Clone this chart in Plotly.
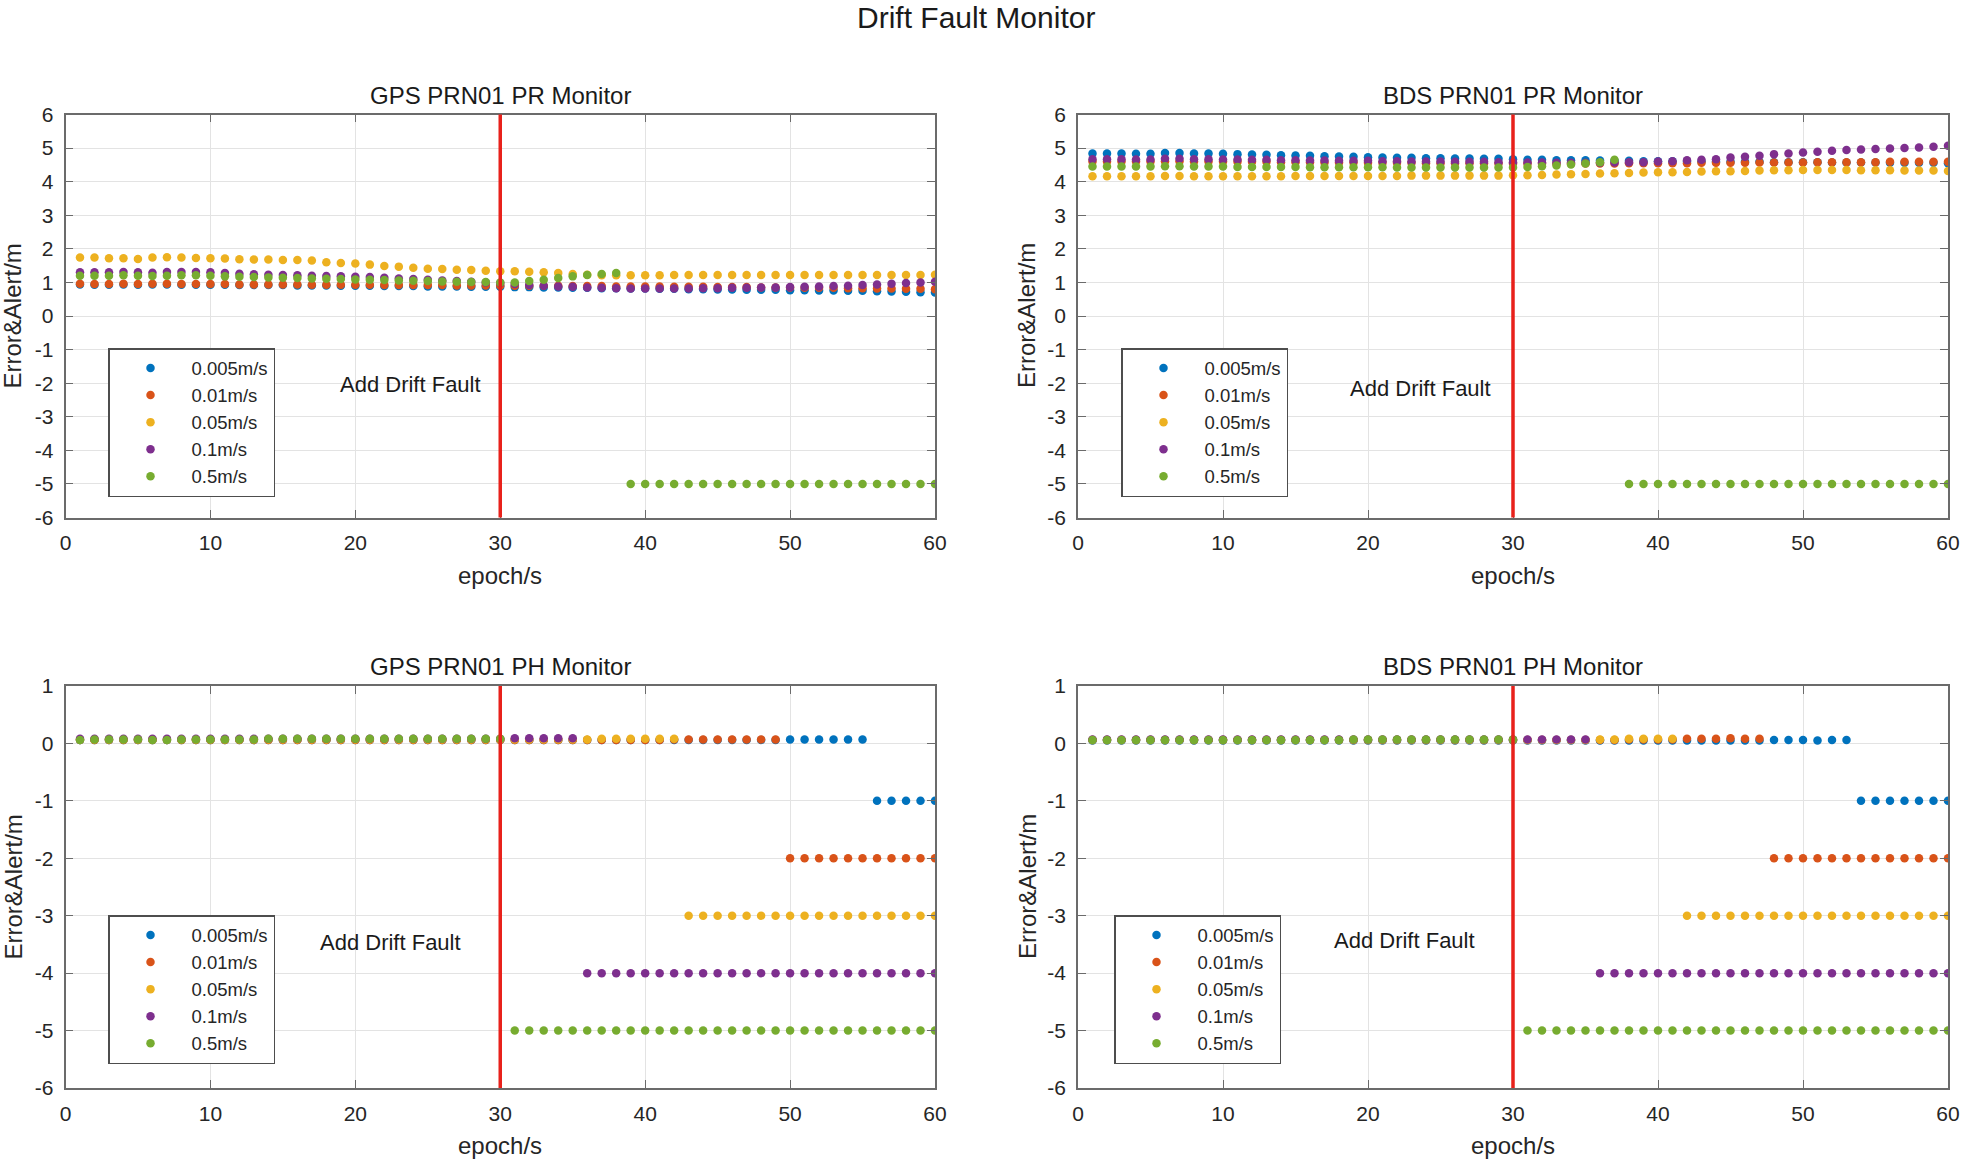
import plotly.graph_objects as go

# ---------------- data ----------------
EPOCHS = list(range(1, 61))
SERIES = ["0.005m/s", "0.01m/s", "0.05m/s", "0.1m/s", "0.5m/s"]
COLORS = ["#0072BD", "#D95319", "#EDB120", "#7E2F8E", "#77AC30"]
FAULT_EPOCH = 30
X_TICKS = [0, 10, 20, 30, 40, 50, 60]
PR_Y_TICKS = [-6, -5, -4, -3, -2, -1, 0, 1, 2, 3, 4, 5, 6]
PH_Y_TICKS = [-6, -5, -4, -3, -2, -1, 0, 1]

# GPS PRN01 PR monitor
GPS_PR_0005 = [0.94, 0.93, 0.93, 0.94, 0.93, 0.94, 0.94, 0.93, 0.93, 0.93,
               0.93, 0.92, 0.92, 0.92, 0.92, 0.91, 0.91, 0.91, 0.90, 0.90,
               0.90, 0.89, 0.89, 0.89, 0.88, 0.88, 0.88, 0.87, 0.87, 0.87,
               0.86, 0.86, 0.85, 0.85, 0.84, 0.84, 0.83, 0.83, 0.82, 0.82,
               0.81, 0.81, 0.80, 0.80, 0.79, 0.79, 0.78, 0.78, 0.78, 0.77,
               0.77, 0.76, 0.76, 0.75, 0.75, 0.74, 0.73, 0.72, 0.71, 0.70]
GPS_PR_001 = [0.96, 0.95, 0.95, 0.96, 0.95, 0.96, 0.96, 0.95, 0.95, 0.95,
              0.95, 0.94, 0.94, 0.94, 0.94, 0.94, 0.93, 0.93, 0.93, 0.93,
              0.93, 0.92, 0.92, 0.92, 0.92, 0.92, 0.91, 0.91, 0.91, 0.91,
              0.90, 0.90, 0.90, 0.90, 0.89, 0.89, 0.89, 0.88, 0.88, 0.88,
              0.88, 0.87, 0.87, 0.87, 0.86, 0.86, 0.86, 0.85, 0.85, 0.85,
              0.84, 0.84, 0.84, 0.83, 0.83, 0.82, 0.82, 0.81, 0.81, 0.80]
GPS_PR_005 = [1.74, 1.74, 1.72, 1.72, 1.70, 1.74, 1.75, 1.74, 1.73, 1.72,
              1.71, 1.69, 1.68, 1.68, 1.67, 1.67, 1.65, 1.60, 1.58, 1.56,
              1.53, 1.49, 1.47, 1.44, 1.41, 1.40, 1.38, 1.37, 1.35, 1.33,
              1.33, 1.32, 1.30, 1.28, 1.25, 1.23, 1.21, 1.21, 1.21, 1.21,
              1.21, 1.22, 1.22, 1.22, 1.22, 1.22, 1.22, 1.22, 1.22, 1.22,
              1.22, 1.22, 1.22, 1.22, 1.22, 1.22, 1.22, 1.22, 1.22, 1.23]
GPS_PR_01 = [1.30, 1.30, 1.30, 1.31, 1.30, 1.29, 1.31, 1.31, 1.31, 1.30,
             1.28, 1.26, 1.24, 1.23, 1.22, 1.21, 1.20, 1.19, 1.18, 1.17,
             1.16, 1.14, 1.12, 1.10, 1.08, 1.06, 1.04, 1.02, 1.00, 0.98,
             0.95, 0.92, 0.90, 0.88, 0.87, 0.85, 0.84, 0.83, 0.82, 0.82,
             0.82, 0.82, 0.82, 0.83, 0.83, 0.84, 0.84, 0.85, 0.85, 0.86,
             0.87, 0.88, 0.89, 0.90, 0.92, 0.94, 0.96, 0.98, 1.00, 1.02]
GPS_PR_05 = [1.20, 1.20, 1.20, 1.21, 1.20, 1.19, 1.20, 1.21, 1.21, 1.20,
             1.18, 1.17, 1.16, 1.15, 1.14, 1.13, 1.12, 1.11, 1.10, 1.09,
             1.08, 1.07, 1.06, 1.05, 1.04, 1.03, 1.02, 1.01, 1.01, 1.00,
             1.00, 1.04, 1.08, 1.13, 1.18, 1.22, 1.25, 1.28, -5.0, -5.0,
             -5.0, -5.0, -5.0, -5.0, -5.0, -5.0, -5.0, -5.0, -5.0, -5.0,
             -5.0, -5.0, -5.0, -5.0, -5.0, -5.0, -5.0, -5.0, -5.0, -5.0]

# BDS PRN01 PR monitor
BDS_PR_0005 = [4.84, 4.84, 4.84, 4.83, 4.83, 4.85, 4.85, 4.84, 4.84, 4.83,
               4.82, 4.81, 4.80, 4.79, 4.78, 4.77, 4.76, 4.75, 4.74, 4.73,
               4.72, 4.71, 4.71, 4.70, 4.70, 4.69, 4.69, 4.68, 4.68, 4.67,
               4.65, 4.65, 4.64, 4.64, 4.64, 4.63, 4.62, 4.62, 4.61, 4.61,
               4.61, 4.60, 4.60, 4.60, 4.59, 4.59, 4.59, 4.58, 4.58, 4.58,
               4.58, 4.57, 4.57, 4.57, 4.57, 4.56, 4.56, 4.56, 4.56, 4.55]
BDS_PR_001 = [4.60, 4.60, 4.60, 4.60, 4.60, 4.61, 4.61, 4.60, 4.60, 4.60,
              4.59, 4.59, 4.59, 4.58, 4.58, 4.58, 4.57, 4.57, 4.57, 4.56,
              4.56, 4.56, 4.56, 4.55, 4.55, 4.55, 4.55, 4.55, 4.54, 4.54,
              4.54, 4.54, 4.54, 4.54, 4.54, 4.54, 4.54, 4.55, 4.55, 4.55,
              4.55, 4.55, 4.56, 4.56, 4.56, 4.56, 4.57, 4.57, 4.57, 4.57,
              4.58, 4.58, 4.58, 4.58, 4.58, 4.59, 4.59, 4.59, 4.59, 4.59]
BDS_PR_005 = [4.16, 4.16, 4.16, 4.16, 4.16, 4.17, 4.17, 4.16, 4.16, 4.16,
              4.16, 4.16, 4.16, 4.16, 4.17, 4.17, 4.17, 4.17, 4.17, 4.17,
              4.17, 4.17, 4.18, 4.18, 4.18, 4.18, 4.18, 4.18, 4.18, 4.19,
              4.19, 4.20, 4.21, 4.22, 4.23, 4.24, 4.25, 4.26, 4.27, 4.28,
              4.28, 4.29, 4.30, 4.31, 4.31, 4.32, 4.33, 4.34, 4.34, 4.35,
              4.35, 4.35, 4.35, 4.34, 4.34, 4.34, 4.33, 4.33, 4.33, 4.32]
BDS_PR_01 = [4.67, 4.67, 4.67, 4.66, 4.66, 4.68, 4.68, 4.67, 4.67, 4.66,
             4.66, 4.65, 4.65, 4.64, 4.64, 4.63, 4.63, 4.62, 4.62, 4.62,
             4.61, 4.61, 4.60, 4.60, 4.60, 4.59, 4.59, 4.59, 4.58, 4.58,
             4.57, 4.57, 4.56, 4.56, 4.56, 4.56, 4.57, 4.58, 4.58, 4.60,
             4.61, 4.64, 4.65, 4.67, 4.72, 4.74, 4.77, 4.82, 4.84, 4.87,
             4.89, 4.92, 4.94, 4.96, 4.97, 4.99, 5.00, 5.02, 5.04, 5.07]
BDS_PR_05 = [4.45, 4.45, 4.45, 4.45, 4.45, 4.46, 4.46, 4.45, 4.45, 4.45,
             4.44, 4.44, 4.44, 4.44, 4.44, 4.43, 4.43, 4.43, 4.43, 4.43,
             4.43, 4.42, 4.42, 4.42, 4.42, 4.42, 4.42, 4.42, 4.42, 4.42,
             4.44, 4.46, 4.48, 4.51, 4.54, 4.58, 4.65, -5.0, -5.0, -5.0,
             -5.0, -5.0, -5.0, -5.0, -5.0, -5.0, -5.0, -5.0, -5.0, -5.0,
             -5.0, -5.0, -5.0, -5.0, -5.0, -5.0, -5.0, -5.0, -5.0, -5.0]

# GPS PRN01 PH monitor
GPS_PH_0005 = [0.06, 0.06, 0.06, 0.06, 0.06, 0.06, 0.06, 0.06, 0.06, 0.06,
               0.06, 0.06, 0.06, 0.06, 0.06, 0.06, 0.06, 0.06, 0.06, 0.06,
               0.06, 0.06, 0.06, 0.06, 0.06, 0.06, 0.06, 0.06, 0.06, 0.06,
               0.06, 0.06, 0.06, 0.06, 0.06, 0.06, 0.06, 0.06, 0.06, 0.06,
               0.06, 0.06, 0.06, 0.06, 0.06, 0.06, 0.06, 0.06, 0.06, 0.07,
               0.07, 0.07, 0.07, 0.07, 0.07, -1.0, -1.0, -1.0, -1.0, -1.0]
GPS_PH_001 = [0.06, 0.06, 0.06, 0.06, 0.06, 0.06, 0.06, 0.06, 0.06, 0.06,
              0.06, 0.06, 0.06, 0.06, 0.06, 0.06, 0.06, 0.06, 0.06, 0.06,
              0.06, 0.06, 0.06, 0.06, 0.06, 0.06, 0.06, 0.06, 0.06, 0.06,
              0.06, 0.06, 0.06, 0.06, 0.06, 0.06, 0.06, 0.06, 0.06, 0.06,
              0.06, 0.07, 0.07, 0.07, 0.07, 0.07, 0.07, 0.07, 0.07, -2.0,
              -2.0, -2.0, -2.0, -2.0, -2.0, -2.0, -2.0, -2.0, -2.0, -2.0]
GPS_PH_005 = [0.07, 0.07, 0.07, 0.07, 0.07, 0.07, 0.07, 0.07, 0.07, 0.07,
              0.07, 0.07, 0.07, 0.07, 0.07, 0.07, 0.07, 0.07, 0.07, 0.07,
              0.07, 0.07, 0.07, 0.07, 0.07, 0.07, 0.07, 0.07, 0.07, 0.07,
              0.07, 0.07, 0.07, 0.07, 0.07, 0.07, 0.08, 0.08, 0.08, 0.08,
              0.08, 0.08, -3.0, -3.0, -3.0, -3.0, -3.0, -3.0, -3.0, -3.0,
              -3.0, -3.0, -3.0, -3.0, -3.0, -3.0, -3.0, -3.0, -3.0, -3.0]
GPS_PH_01 = [0.08, 0.08, 0.08, 0.08, 0.08, 0.08, 0.08, 0.08, 0.08, 0.08,
             0.08, 0.08, 0.08, 0.08, 0.08, 0.08, 0.08, 0.08, 0.08, 0.08,
             0.08, 0.08, 0.08, 0.08, 0.08, 0.08, 0.08, 0.08, 0.08, 0.08,
             0.09, 0.09, 0.09, 0.09, 0.09, -4.0, -4.0, -4.0, -4.0, -4.0,
             -4.0, -4.0, -4.0, -4.0, -4.0, -4.0, -4.0, -4.0, -4.0, -4.0,
             -4.0, -4.0, -4.0, -4.0, -4.0, -4.0, -4.0, -4.0, -4.0, -4.0]
GPS_PH_05 = [0.06, 0.07, 0.07, 0.07, 0.07, 0.06, 0.06, 0.07, 0.07, 0.07,
             0.07, 0.07, 0.07, 0.08, 0.08, 0.08, 0.08, 0.08, 0.08, 0.08,
             0.08, 0.08, 0.08, 0.08, 0.08, 0.08, 0.08, 0.08, 0.08, 0.08,
             -5.0, -5.0, -5.0, -5.0, -5.0, -5.0, -5.0, -5.0, -5.0, -5.0,
             -5.0, -5.0, -5.0, -5.0, -5.0, -5.0, -5.0, -5.0, -5.0, -5.0,
             -5.0, -5.0, -5.0, -5.0, -5.0, -5.0, -5.0, -5.0, -5.0, -5.0]

# BDS PRN01 PH monitor
BDS_PH_0005 = [0.05, 0.05, 0.05, 0.05, 0.05, 0.05, 0.05, 0.05, 0.05, 0.05,
               0.05, 0.05, 0.05, 0.05, 0.05, 0.05, 0.05, 0.05, 0.05, 0.05,
               0.05, 0.05, 0.05, 0.05, 0.05, 0.05, 0.05, 0.05, 0.05, 0.05,
               0.05, 0.05, 0.05, 0.05, 0.05, 0.05, 0.05, 0.05, 0.05, 0.05,
               0.05, 0.05, 0.05, 0.05, 0.05, 0.05, 0.05, 0.06, 0.06, 0.06,
               0.05, 0.06, 0.06, -1.0, -1.0, -1.0, -1.0, -1.0, -1.0, -1.0]
BDS_PH_001 = [0.06, 0.06, 0.06, 0.06, 0.06, 0.06, 0.06, 0.06, 0.06, 0.06,
              0.06, 0.06, 0.06, 0.06, 0.06, 0.06, 0.06, 0.06, 0.06, 0.06,
              0.06, 0.06, 0.06, 0.06, 0.06, 0.06, 0.06, 0.06, 0.06, 0.06,
              0.06, 0.06, 0.06, 0.06, 0.06, 0.06, 0.06, 0.07, 0.07, 0.07,
              0.07, 0.08, 0.08, 0.08, 0.09, 0.08, 0.08, -2.0, -2.0, -2.0,
              -2.0, -2.0, -2.0, -2.0, -2.0, -2.0, -2.0, -2.0, -2.0, -2.0]
BDS_PH_005 = [0.06, 0.06, 0.06, 0.06, 0.06, 0.06, 0.06, 0.06, 0.06, 0.06,
              0.06, 0.06, 0.06, 0.06, 0.06, 0.06, 0.06, 0.06, 0.06, 0.06,
              0.06, 0.06, 0.06, 0.06, 0.06, 0.06, 0.06, 0.06, 0.06, 0.06,
              0.06, 0.06, 0.06, 0.06, 0.06, 0.07, 0.07, 0.08, 0.08, 0.08,
              0.08, -3.0, -3.0, -3.0, -3.0, -3.0, -3.0, -3.0, -3.0, -3.0,
              -3.0, -3.0, -3.0, -3.0, -3.0, -3.0, -3.0, -3.0, -3.0, -3.0]
BDS_PH_01 = [0.07, 0.07, 0.07, 0.07, 0.07, 0.07, 0.07, 0.07, 0.07, 0.07,
             0.07, 0.07, 0.07, 0.07, 0.07, 0.07, 0.07, 0.07, 0.07, 0.07,
             0.07, 0.07, 0.07, 0.07, 0.07, 0.07, 0.07, 0.07, 0.07, 0.07,
             0.07, 0.07, 0.07, 0.07, 0.07, -4.0, -4.0, -4.0, -4.0, -4.0,
             -4.0, -4.0, -4.0, -4.0, -4.0, -4.0, -4.0, -4.0, -4.0, -4.0,
             -4.0, -4.0, -4.0, -4.0, -4.0, -4.0, -4.0, -4.0, -4.0, -4.0]
BDS_PH_05 = [0.06, 0.06, 0.06, 0.06, 0.06, 0.06, 0.06, 0.06, 0.06, 0.06,
             0.06, 0.06, 0.06, 0.06, 0.06, 0.06, 0.06, 0.06, 0.07, 0.07,
             0.07, 0.07, 0.07, 0.07, 0.07, 0.07, 0.07, 0.07, 0.07, 0.07,
             -5.0, -5.0, -5.0, -5.0, -5.0, -5.0, -5.0, -5.0, -5.0, -5.0,
             -5.0, -5.0, -5.0, -5.0, -5.0, -5.0, -5.0, -5.0, -5.0, -5.0,
             -5.0, -5.0, -5.0, -5.0, -5.0, -5.0, -5.0, -5.0, -5.0, -5.0]

PANELS = [
    dict(title="GPS PRN01 PR Monitor", data=[GPS_PR_0005, GPS_PR_001, GPS_PR_005, GPS_PR_01, GPS_PR_05],
         yrange=[-6, 6], yticks=PR_Y_TICKS, note=(23.8, -2.05)),
    dict(title="BDS PRN01 PR Monitor", data=[BDS_PR_0005, BDS_PR_001, BDS_PR_005, BDS_PR_01, BDS_PR_05],
         yrange=[-6, 6], yticks=PR_Y_TICKS, note=(23.6, -2.15)),
    dict(title="GPS PRN01 PH Monitor", data=[GPS_PH_0005, GPS_PH_001, GPS_PH_005, GPS_PH_01, GPS_PH_05],
         yrange=[-6, 1], yticks=PH_Y_TICKS, note=(22.4, -3.46)),
    dict(title="BDS PRN01 PH Monitor", data=[BDS_PH_0005, BDS_PH_001, BDS_PH_005, BDS_PH_01, BDS_PH_05],
         yrange=[-6, 1], yticks=PH_Y_TICKS, note=(22.55, -3.44)),
]

# ---------------- layout ----------------
W, H = 1964, 1163
FONT = "Liberation Sans, Arial, Helvetica, sans-serif"
TXT = "#262626"

# pixel boxes of each axes (left, right, top, bottom)
BOXES = [(65.5, 935, 114.5, 517.5), (1078, 1948, 114.5, 517.5),
         (65.5, 935, 686, 1088), (1078, 1948, 686, 1088)]
LEGEND_POS = [(108, 348), (1121, 348), (108, 915), (1114, 915)]
YLABEL_X = [12.5, 1027, 12.5, 1027]


def px(x):
    return x / W


def py(y):
    return 1 - y / H


fig = go.Figure()
annotations = [dict(text="Drift Fault Monitor", xref="paper", yref="paper",
                    x=px(976), y=1, xanchor="center", yanchor="top",
                    showarrow=False, borderpad=0,
                    font=dict(size=30, color="#1a1a1a"))]
shapes = []
layout = dict(
    width=W, height=H, autosize=False,
    margin=dict(l=0, r=0, t=0, b=0, pad=0, autoexpand=False),
    paper_bgcolor="white", plot_bgcolor="white",
    font=dict(family=FONT, size=21, color=TXT),
    showlegend=True,
)

for i, p in enumerate(PANELS):
    n = "" if i == 0 else str(i + 1)
    xa, ya = "x" + n, "y" + n
    lg = "legend" + n
    l, r, t, b = BOXES[i]
    for k, (name, col) in enumerate(zip(SERIES, COLORS)):
        fig.add_trace(go.Scatter(
            x=EPOCHS, y=p["data"][k], mode="markers", name=name,
            marker=dict(color=col, size=8.5, line=dict(width=0)),
            xaxis=xa, yaxis=ya, legend=lg, showlegend=True,
        ))
    axcommon = dict(showline=True, linecolor="#6b6b6b", linewidth=1.5, mirror="ticks",
                    ticks="inside", ticklen=8, tickwidth=1.2, tickcolor="#6b6b6b",
                    showgrid=True, gridcolor="#e3e3e3", gridwidth=1, zeroline=False,
                    automargin=False,
                    tickfont=dict(size=21, color=TXT), ticklabelstandoff=6)
    layout["xaxis" + n] = dict(axcommon, domain=[px(l), px(r)], range=[0, 60],
                               tickvals=X_TICKS, ticktext=[str(v) for v in X_TICKS],
                               anchor=ya)
    layout["yaxis" + n] = dict(axcommon, domain=[py(b), py(t)], range=p["yrange"],
                               tickvals=p["yticks"], ticktext=[str(v) for v in p["yticks"]],
                               anchor=xa)
    lx, ly = LEGEND_POS[i]
    layout[lg] = dict(x=px(lx), y=py(ly), xanchor="left", yanchor="top",
                      xref="paper", yref="paper",
                      bgcolor="white", bordercolor="#4d4d4d", borderwidth=1.5,
                      font=dict(size=18.5, color=TXT), itemwidth=72,
                      tracegroupgap=0)
    # fault line
    shapes.append(dict(type="line", xref=xa, yref=ya + " domain",
                       x0=FAULT_EPOCH, x1=FAULT_EPOCH, y0=0, y1=1,
                       line=dict(color="#e8211b", width=3.5)))
    # titles / labels
    annotations.append(dict(text=p["title"], xref="paper", yref="paper",
                            x=px((l + r) / 2), y=py(t - 19.5), xanchor="center", yanchor="middle",
                            showarrow=False, font=dict(size=24, color="#1a1a1a")))
    annotations.append(dict(text="epoch/s", xref="paper", yref="paper",
                            x=px((l + r) / 2), y=py(b + 57.5), xanchor="center", yanchor="middle",
                            showarrow=False, font=dict(size=24, color=TXT)))
    annotations.append(dict(text="Error&Alert/m", xref="paper", yref="paper",
                            x=px(YLABEL_X[i]), y=py((t + b) / 2), xanchor="center", yanchor="middle",
                            textangle=-90, showarrow=False, font=dict(size=24, color=TXT)))
    annotations.append(dict(text="Add Drift Fault", xref=xa, yref=ya,
                            x=p["note"][0], y=p["note"][1], xanchor="center", yanchor="middle",
                            showarrow=False, font=dict(size=22, color="#1a1a1a")))

layout["annotations"] = annotations
layout["shapes"] = shapes
fig.update_layout(**layout)

fig.write_html("out.html", config={"displayModeBar": False},
               post_script="document.body.style.margin='0px';")
